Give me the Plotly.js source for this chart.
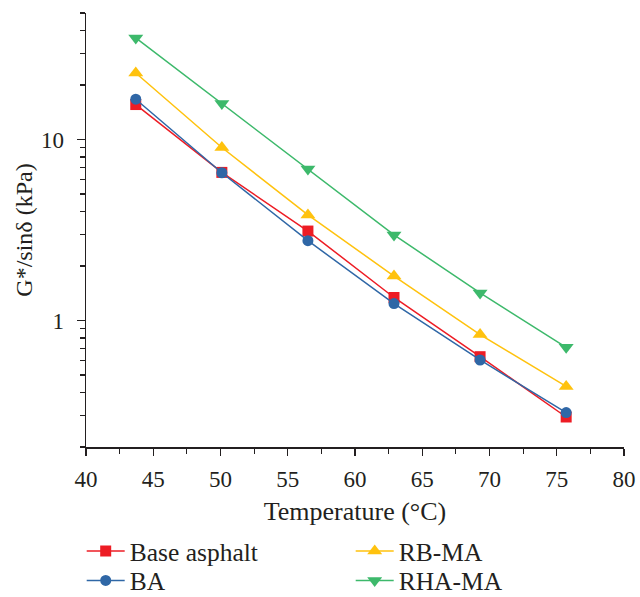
<!DOCTYPE html>
<html>
<head>
<meta charset="utf-8">
<script src="https://cdn.plot.ly/plotly-3.0.1.min.js"></script>
<style>html,body{margin:0;padding:0;background:#fff;}#chart{width:640px;height:597px;}</style>
</head>
<body>
<div id="chart"></div>
<script>
const temperature = [43.7, 50.1, 56.5, 62.9, 69.3, 75.7];
const baseAsphalt = [15.6, 6.58, 3.12, 1.34, 0.631, 0.293];
const ba = [16.7, 6.55, 2.76, 1.24, 0.605, 0.31];
const rbMa = [23.3, 9.03, 3.83, 1.76, 0.836, 0.432];
const rhaMa = [36.4, 15.8, 6.87, 2.97, 1.42, 0.711];
const seriesNames = ["Base asphalt", "BA", "RB-MA", "RHA-MA"];
const xTickVals = [40, 45, 50, 55, 60, 65, 70, 75, 80];
const yTickVals = [1, 10];
const yTickText = ["1", "10"];
const yMinorVals = [0.2, 0.3, 0.4, 0.5, 0.6, 0.7, 0.8, 0.9, 2, 3, 4, 5, 6, 7, 8, 9, 20, 30, 40, 50];

const fam = "Liberation Serif";
const ink = "#231F20";
function f(size) { return {family: fam, size: size, color: ink}; }
function tr(name, y, color, symbol, size, legendId) {
  return {
    x: temperature, y: y, name: name, type: "scatter", mode: "lines+markers",
    line: {color: color, width: 1.5},
    marker: {color: color, symbol: symbol, size: size},
    legend: legendId
  };
}
const data = [
  tr(seriesNames[0], baseAsphalt, "#ED1C24", "square", 11, "legend"),
  tr(seriesNames[1], ba, "#2F67A6", "circle", 11, "legend2"),
  tr(seriesNames[2], rbMa, "#FFC20E", "triangle-up", 13, "legend3"),
  tr(seriesNames[3], rhaMa, "#3DB96B", "triangle-down", 13, "legend4")
];
function leg(x, y) {
  return {x: x, y: y, xanchor: "left", yanchor: "middle", orientation: "v",
          itemwidth: 38, font: f(25.5), bgcolor: "rgba(0,0,0,0)"};
}
const layout = {
  width: 640, height: 597,
  margin: {l: 86, r: 16, t: 13, b: 150, autoexpand: false},
  paper_bgcolor: "#fff", plot_bgcolor: "#fff",
  font: f(20),
  showlegend: true,
  xaxis: {
    range: [40, 80], tickmode: "array", tickvals: xTickVals,
    ticks: "outside", ticklen: 7, tickwidth: 1.2, tickcolor: ink,
    showline: true, linecolor: ink, linewidth: 1.5,
    showgrid: false, zeroline: false, ticklabelstandoff: 4,
    minor: {tickmode: "linear", tick0: 42.5, dtick: 5, ticks: "outside", ticklen: 5, tickwidth: 1.2, tickcolor: ink, showgrid: false},
    title: {text: "Temperature (°C)", font: f(26), standoff: 10},
    tickfont: f(23)
  },
  yaxis: {
    type: "log", range: [Math.log10(0.2), Math.log10(50)],
    tickmode: "array", tickvals: yTickVals, ticktext: yTickText,
    ticks: "outside", ticklen: 8, tickwidth: 1.2, tickcolor: ink,
    showline: true, linecolor: ink, linewidth: 1.5,
    showgrid: false, zeroline: false, ticklabelstandoff: 8,
    minor: {tickmode: "array", tickvals: yMinorVals, ticks: "outside", ticklen: 5, tickwidth: 1.2, tickcolor: ink, showgrid: false},
    title: {text: "G*/sinδ (kPa)", font: f(24), standoff: 1},
    tickfont: f(23)
  },
  legend: leg(-0.008, -0.2408),
  legend2: leg(-0.008, -0.3085),
  legend3: leg(0.492, -0.2408),
  legend4: leg(0.492, -0.3085)
};
Plotly.newPlot("chart", data, layout, {displayModeBar: false, staticPlot: true});
</script>
</body>
</html>
